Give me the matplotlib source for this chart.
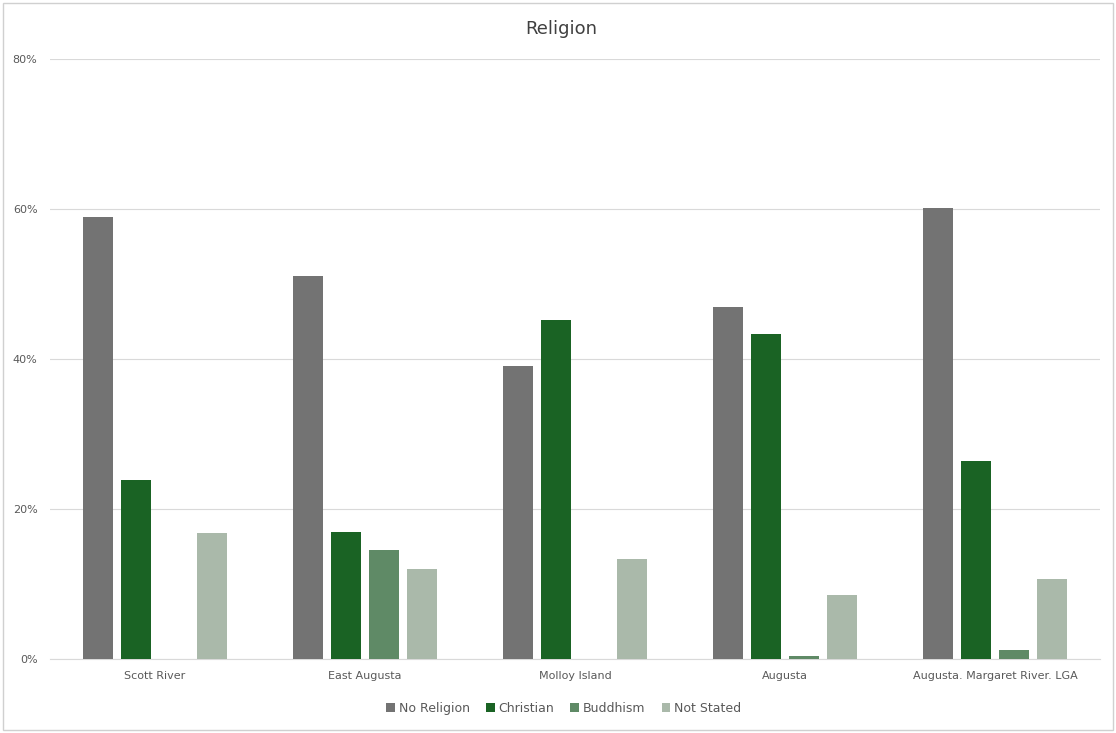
import matplotlib
matplotlib.use("Agg")
import matplotlib.pyplot as plt
from matplotlib.patches import Rectangle
import numpy as np

categories = ["Scott River", "East Augusta", "Molloy Island", "Augusta", "Augusta. Margaret River. LGA"]
series_names = ["No Religion", "Christian", "Buddhism", "Not Stated"]
no_religion = [58.9, 51.1, 39.1, 46.9, 60.1]
christian = [23.8, 16.9, 45.2, 43.3, 26.4]
buddhism = [0.0, 14.5, 0.0, 0.4, 1.2]
not_stated = [16.8, 12.0, 13.3, 8.5, 10.7]
y_ticks = [0, 20, 40, 60, 80]

colors = ["#737373", "#1a6324", "#5f8a66", "#aab9aa"]
values = [no_religion, christian, buddhism, not_stated]

fig = plt.figure(figsize=(11.16, 7.33), dpi=100)
fig.patches.append(Rectangle((0.003, 0.004), 0.994, 0.992, transform=fig.transFigure,
                             fill=False, edgecolor="#d0d0d0", linewidth=1.0))
ax = fig.add_axes([0.0448, 0.1010, 0.9409, 0.8185])

x = np.arange(len(categories))
width = 0.143
step = 0.181
for i, (name, vals, c) in enumerate(zip(series_names, values, colors)):
    ax.bar(x + (i - 1.5) * step, [v / 100 for v in vals], width, color=c, label=name, zorder=3)

ax.set_xlim(-0.5, len(categories) - 0.5)
ax.set_ylim(0, 0.8)
ax.set_yticks([t / 100 for t in y_ticks])
ax.set_yticklabels([f"{t}%" for t in y_ticks])
ax.set_xticks(x)
ax.set_xticklabels(categories)
ax.tick_params(axis="both", length=0, labelsize=8, labelcolor="#595959")
ax.tick_params(axis="x", pad=9)
ax.tick_params(axis="y", pad=9)
ax.grid(axis="y", color="#d9d9d9", linewidth=0.8, zorder=0)
for s in ["top", "right", "left"]:
    ax.spines[s].set_visible(False)
ax.spines["bottom"].set_color("#d9d9d9")

fig.text(0.503, 0.96, "Religion", ha="center", va="center", fontsize=13, color="#404040")
leg = fig.legend(loc="center", bbox_to_anchor=(0.505, 0.034), ncol=4, frameon=False,
                 fontsize=9, handlelength=0.7, handleheight=0.7, handletextpad=0.3,
                 columnspacing=1.3)
for t in leg.get_texts():
    t.set_color("#595959")

fig.savefig("out.png", dpi=100)
